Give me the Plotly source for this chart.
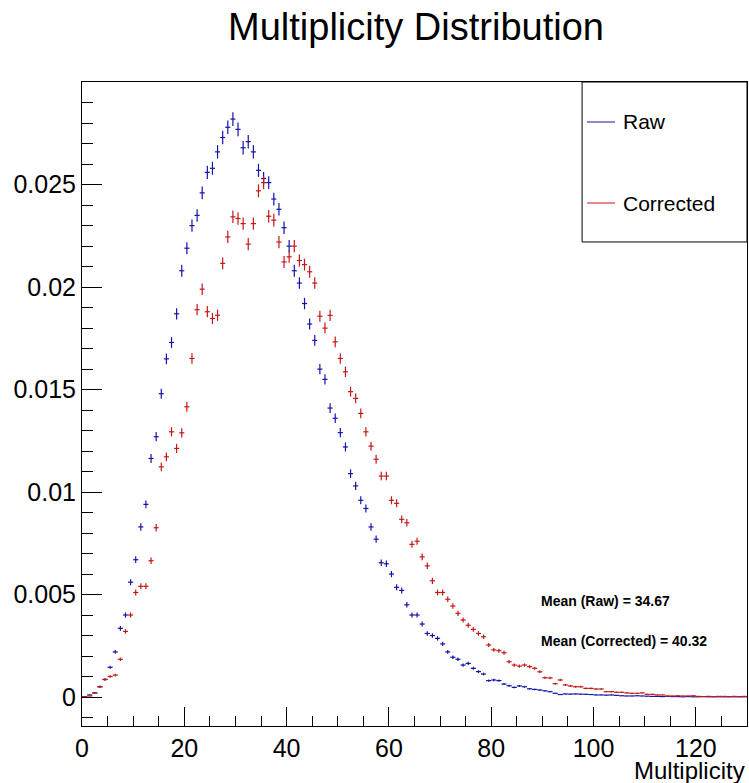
import numpy as np
import plotly.graph_objects as go

# ---------------- data ----------------
BIN_LOW = 0
BIN_HIGH = 130
BIN_WIDTH = 1

raw_values = [
    0.00002, 0.0001, 0.0002, 0.0005, 0.00086, 0.00145, 0.0022, 0.00335, 0.0040, 0.0056,
    0.0067, 0.0083, 0.0094, 0.01164, 0.0127, 0.0148, 0.0165, 0.0173, 0.0187, 0.0208,
    0.0219, 0.0230, 0.0235, 0.0246, 0.0256, 0.0258, 0.0266, 0.0273, 0.0278, 0.0282,
    0.0277, 0.0268, 0.0271, 0.0266, 0.0257, 0.0253, 0.0251, 0.0243, 0.0238, 0.0229,
    0.0220, 0.0208, 0.0202, 0.0192, 0.0182, 0.0174, 0.0160, 0.0155, 0.0141, 0.0136,
    0.0129, 0.0122, 0.0109, 0.0103, 0.0096, 0.0092, 0.0083, 0.0077, 0.00655, 0.0065,
    0.0060, 0.00535, 0.0052, 0.0045, 0.0040, 0.0040, 0.00356, 0.0031, 0.0030, 0.00286,
    0.00259, 0.0022, 0.00194, 0.00184, 0.00156, 0.00164, 0.0014, 0.00124, 0.00112, 0.0008,
    0.00083, 0.0008, 0.00063, 0.00055, 0.00047, 0.00054, 0.0005, 0.0004, 0.00037, 0.00034,
    0.00030, 0.00026, 0.00018, 0.00012, 0.00015, 0.00014, 0.00015, 0.00014, 0.00013, 0.00012,
    0.0001, 0.0001, 0.00009, 0.0001, 0.00008, 0.00006, 0.00005, 0.00005, 0.00006, 0.00005,
    0.00004, 0.00003, 0.00003, 0.00002, 0.00003, 0.00002, 0.00002, 0.00001, 0.00002, 0.00001,
    0.00001, 0.00002, 0.00001, 0.00001, 0.00001, 0.00001, 0.00001, 0.00001, 0.00001, 0.00001,
]

corrected_values = [
    0.00002, 0.00005, 0.0002, 0.0005, 0.00085, 0.0010, 0.00107, 0.00184, 0.0032, 0.0040,
    0.0051, 0.0054, 0.0054, 0.00665, 0.00826, 0.01123, 0.01172, 0.01294, 0.01213, 0.01289,
    0.01416, 0.01652, 0.0189, 0.0199, 0.0188, 0.01847, 0.01863, 0.02116, 0.02245, 0.02343,
    0.02335, 0.0231, 0.0221, 0.0231, 0.0247, 0.0251, 0.02346, 0.02327, 0.0222, 0.02123,
    0.02148, 0.0220, 0.0213, 0.0211, 0.02075, 0.0202, 0.01858, 0.0180, 0.01862, 0.01733,
    0.01652, 0.01587, 0.0149, 0.01457, 0.01384, 0.01294, 0.01224, 0.0116, 0.01078, 0.01078,
    0.0096, 0.00945, 0.00867, 0.0085, 0.00745, 0.0076, 0.00684, 0.0064, 0.00567, 0.0051,
    0.0051, 0.00477, 0.00444, 0.00408, 0.00376, 0.0035, 0.0033, 0.0031, 0.00294, 0.00254,
    0.0023, 0.00226, 0.00216, 0.00172, 0.00156, 0.00151, 0.00156, 0.00148, 0.0014, 0.00123,
    0.00094, 0.00093, 0.00065, 0.00083, 0.00059, 0.00054, 0.0005, 0.0005, 0.00042, 0.00042,
    0.00039, 0.00039, 0.00026, 0.00026, 0.00023, 0.00023, 0.0002, 0.00018, 0.00018, 0.0002,
    0.00013, 0.00013, 0.0001, 0.0001, 0.00005, 0.00005, 0.00006, 0.00005, 0.00005, 0.00006,
    0.00003, 0.00002, 0.00003, 0.00002, 0.00003, 0.00003, 0.00002, 0.00003, 0.00002, 0.00003,
]

# effective number of entries used for Poisson-like statistical error bars
EFFECTIVE_ENTRIES = 250000

series_names = ["Raw", "Corrected"]
mean_labels = ["Mean (Raw) = 34.67", "Mean (Corrected) = 40.32"]
x_tick_values = [0, 20, 40, 60, 80, 100, 120]
y_tick_values = [0, 0.005, 0.01, 0.015, 0.02, 0.025]
title_text = "Multiplicity Distribution"
x_title = "Multiplicity"

# ---------------- figure ----------------
BLUE = "#1414a8"
RED = "#c41818"
FONT = "Liberation Sans, Arial, Helvetica, sans-serif"

n_bins = len(raw_values)
centers = np.arange(n_bins) * BIN_WIDTH + BIN_LOW + BIN_WIDTH / 2.0


def stat_err(vals):
    v = np.asarray(vals, dtype=float)
    return np.sqrt(v / EFFECTIVE_ENTRIES)


fig = go.Figure()
for name, vals, col in [(series_names[0], raw_values, BLUE),
                        (series_names[1], corrected_values, RED)]:
    fig.add_trace(go.Scatter(
        x=centers, y=vals, mode="markers", name=name,
        marker=dict(size=1, color="rgba(0,0,0,0)", line=dict(width=0)),
        error_y=dict(type="data", array=stat_err(vals), color=col, thickness=1.2, width=0),
        error_x=dict(type="constant", value=BIN_WIDTH / 2.0, color=col, thickness=1.2, width=0),
        showlegend=False, hoverinfo="x+y",
    ))

axis_common = dict(
    showline=True, linecolor="black", linewidth=1, mirror=True,
    showgrid=False, zeroline=False, ticks="inside", tickcolor="black",
    tickfont=dict(family=FONT, size=25, color="black"),
)

fig.update_xaxes(
    range=[BIN_LOW, BIN_HIGH], tickvals=x_tick_values, ticklen=19, tickwidth=1,
    minor=dict(ticks="inside", dtick=5, tick0=0, ticklen=10, tickcolor="black", tickwidth=1),
    **axis_common,
)
fig.update_yaxes(
    range=[-0.001415, 0.03001], tickvals=y_tick_values, ticklen=20, tickwidth=1,
    minor=dict(ticks="inside", dtick=0.001, tick0=0, ticklen=11, tickcolor="black", tickwidth=1),
    **axis_common,
)

# legend box (ROOT style)
shapes = [
    dict(type="rect", xref="paper", yref="paper", x0=0.752, x1=1.0, y0=0.7516, y1=1.0,
         line=dict(color="black", width=1), fillcolor="white", layer="above"),
    dict(type="line", xref="paper", yref="paper", x0=0.7594, x1=0.8015, y0=0.9379, y1=0.9379,
         line=dict(color=BLUE, width=1), layer="above"),
    dict(type="line", xref="paper", yref="paper", x0=0.7594, x1=0.8015, y0=0.8121, y1=0.8121,
         line=dict(color=RED, width=1), layer="above"),
]

annotations = [
    dict(text=series_names[0], xref="paper", yref="paper", x=0.8105, y=0.9379,
         xanchor="left", yanchor="middle", showarrow=False,
         font=dict(family=FONT, size=21, color="black")),
    dict(text=series_names[1], xref="paper", yref="paper", x=0.8105, y=0.8121,
         xanchor="left", yanchor="middle", showarrow=False,
         font=dict(family=FONT, size=21, color="black")),
    dict(text="<b>%s</b>" % mean_labels[0], xref="x", yref="y", x=89.4, y=0.00468,
         xanchor="left", yanchor="middle", showarrow=False,
         font=dict(family=FONT, size=14, color="black")),
    dict(text="<b>%s</b>" % mean_labels[1], xref="x", yref="y", x=89.4, y=0.00273,
         xanchor="left", yanchor="middle", showarrow=False,
         font=dict(family=FONT, size=14, color="black")),
    dict(text=x_title, xref="paper", yref="paper", x=1.0, y=-0.0695,
         xanchor="right", yanchor="middle", showarrow=False,
         font=dict(family=FONT, size=24, color="black")),
]

fig.update_layout(
    width=749, height=783,
    margin=dict(l=82, r=2, t=82, b=57, pad=0),
    paper_bgcolor="white", plot_bgcolor="white",
    title=dict(text=title_text, x=0.5554, xanchor="center", y=1 - 27 / 783, yanchor="middle",
               xref="container",
               font=dict(family=FONT, size=38, color="black")),
    shapes=shapes, annotations=annotations,
    showlegend=False,
)

fig.write_html("out.html", config={"displayModeBar": False},
               post_script="document.body.style.margin='0';document.body.style.overflow='hidden';")
